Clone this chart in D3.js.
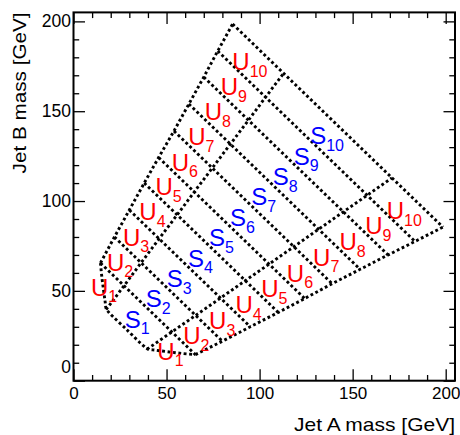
<!DOCTYPE html>
<html><head><meta charset="utf-8">
<script src="https://cdn.jsdelivr.net/npm/d3@7"></script>
<style>
body{margin:0;background:#fff}
text{font-family:"Liberation Sans",Arial,Helvetica,sans-serif}
</style>
</head><body>
<svg id="c" width="460" height="435"></svg>
<script>
// ---- data (GeV) ----
// bin edges along mA+mB (lines of constant sum)
const sumEdges = [57, 80, 102, 125, 148, 170, 193, 216, 239, 261, 284];
// |mB-mA| of the inner (S/U) boundary at each sum edge
const innerOffsets = [22, 25.7, 29.3, 33, 36.6, 40.2, 43.8, 47.4, 51, 54.6, 58.2];
// |mB-mA| of the outer boundary at each sum edge
const outerOffsets = [44, 51, 58, 65, 72, 78.5, 85, 92, 99, 106, 113];
// rounded low-mass boundary (upper-left half, mirrored for the other half)
const bottomCurve = [[14.5,65.5],[15.2,58],[16.2,50],[17,44],[17.6,40],[19.5,37.5],[28.5,28.5]];
const binIndex = [1,2,3,4,5,6,7,8,9,10];
const majorTicks = [0,50,100,150,200];
const minorTicks = [10,20,30,40,60,70,80,90,110,120,130,140,160,170,180,190];
const xTitle = "Jet A mass [GeV]";
const yTitle = "Jet B mass [GeV]";

// ---- layout ----
const svg = d3.select("#c");
const L = 73.5, R = 455, T = 12.4, B = 380.7;
const x = d3.scaleLinear().domain([0,205]).range([L,R]);
const y = d3.scaleLinear().domain([0,205]).range([B,T]);

const leftNode = (s,d) => [(s-d)/2, (s+d)/2];
const rightNode = (s,d) => [(s+d)/2, (s-d)/2];
const swap = p => [p[1], p[0]];

const line = d3.line().x(d=>x(d[0])).y(d=>y(d[1]));
const curve = d3.line().x(d=>x(d[0])).y(d=>y(d[1])).curve(d3.curveCatmullRom.alpha(0.5));

const gl = svg.append("g").attr("fill","none").attr("stroke","#000")
  .attr("stroke-width",2.9).attr("stroke-dasharray","2.8,2.6");

// constant-sum lines
for (let k=1;k<sumEdges.length;k++){
  gl.append("path").attr("d", line([leftNode(sumEdges[k],outerOffsets[k]), rightNode(sumEdges[k],outerOffsets[k])]));
}
// outer boundaries
const outerL = sumEdges.slice(1).map((s,i)=>leftNode(s,outerOffsets[i+1]));
gl.append("path").attr("d", line(outerL));
gl.append("path").attr("d", line(outerL.map(swap)));
// inner boundaries
const innerL = sumEdges.map((s,i)=>leftNode(s,innerOffsets[i]));
gl.append("path").attr("d", line(innerL));
gl.append("path").attr("d", line(innerL.map(swap)));
// low-mass curve
const fullCurve = bottomCurve.concat(bottomCurve.slice(0,-1).reverse().map(swap));
gl.append("path").attr("d", curve(fullCurve));

// ---- labels ----
const gt = svg.append("g");
function label(p, letter, k, color){
  const t = gt.append("text").attr("x", x(p[0])).attr("y", y(p[1])+8.5)
    .attr("text-anchor","middle").attr("fill",color).style("font-size","24px");
  t.append("tspan").text(letter);
  t.append("tspan").attr("dy",6.7).style("font-size","16px").text(k);
}
binIndex.forEach(k=>{
  const sm = (sumEdges[k-1]+sumEdges[k])/2;
  const di = (innerOffsets[k-1]+innerOffsets[k])/2;
  const dout = (outerOffsets[k-1]+outerOffsets[k])/2;
  const dm = (di+dout)/2;
  label(leftNode(sm,dm), "U", k, "#ff0000");
  label(rightNode(sm,dm), "U", k, "#ff0000");
  label([sm/2, sm/2], "S", k, "#0000ff");
});

// ---- axes ----
function styleAxis(g){ g.select(".domain").remove(); g.selectAll("line").attr("stroke","#000").attr("stroke-width",1.3); }
svg.append("g").attr("transform",`translate(0,${B})`)
  .call(d3.axisBottom(x).tickValues(majorTicks).tickSize(-11.5).tickPadding(6.5).tickFormat(d3.format("d")))
  .call(styleAxis).call(g=>g.selectAll("text").style("font-size","17px").attr("fill","#000"));
svg.append("g").attr("transform",`translate(0,${B})`)
  .call(d3.axisBottom(x).tickValues(minorTicks).tickSize(-5.7).tickFormat("")).call(styleAxis);
svg.append("g").attr("transform",`translate(0,${T})`)
  .call(d3.axisTop(x).tickValues(majorTicks).tickSize(-11.5).tickFormat("")).call(styleAxis);
svg.append("g").attr("transform",`translate(0,${T})`)
  .call(d3.axisTop(x).tickValues(minorTicks).tickSize(-5.7).tickFormat("")).call(styleAxis);
svg.append("g").attr("transform",`translate(${L},0)`)
  .call(d3.axisLeft(y).tickValues(majorTicks).tickSize(-11.5).tickPadding(2.5).tickFormat(d3.format("d")))
  .call(styleAxis).call(g=>g.selectAll("text").style("font-size","17.5px").attr("fill","#000"))
  .call(g=>g.selectAll(".tick").filter(d=>d===0).select("text").attr("dy","-0.45em"));
svg.append("g").attr("transform",`translate(${L},0)`)
  .call(d3.axisLeft(y).tickValues(minorTicks).tickSize(-5.7).tickFormat("")).call(styleAxis);
svg.append("g").attr("transform",`translate(${R},0)`)
  .call(d3.axisRight(y).tickValues(majorTicks).tickSize(-11.5).tickFormat("")).call(styleAxis);
svg.append("g").attr("transform",`translate(${R},0)`)
  .call(d3.axisRight(y).tickValues(minorTicks).tickSize(-5.7).tickFormat("")).call(styleAxis);

svg.append("rect").attr("x",L).attr("y",T).attr("width",R-L).attr("height",B-T)
  .attr("fill","none").attr("stroke","#000").attr("stroke-width",2);

// titles
svg.append("text").attr("x",R).attr("y",431).attr("text-anchor","end")
  .attr("textLength",161).attr("lengthAdjust","spacingAndGlyphs")
  .style("font-size","19px").text(xTitle);
svg.append("text").attr("transform",`translate(26,${T}) rotate(-90)`).attr("text-anchor","end")
  .attr("textLength",161).attr("lengthAdjust","spacingAndGlyphs")
  .style("font-size","19px").text(yTitle);
</script>
</body></html>
